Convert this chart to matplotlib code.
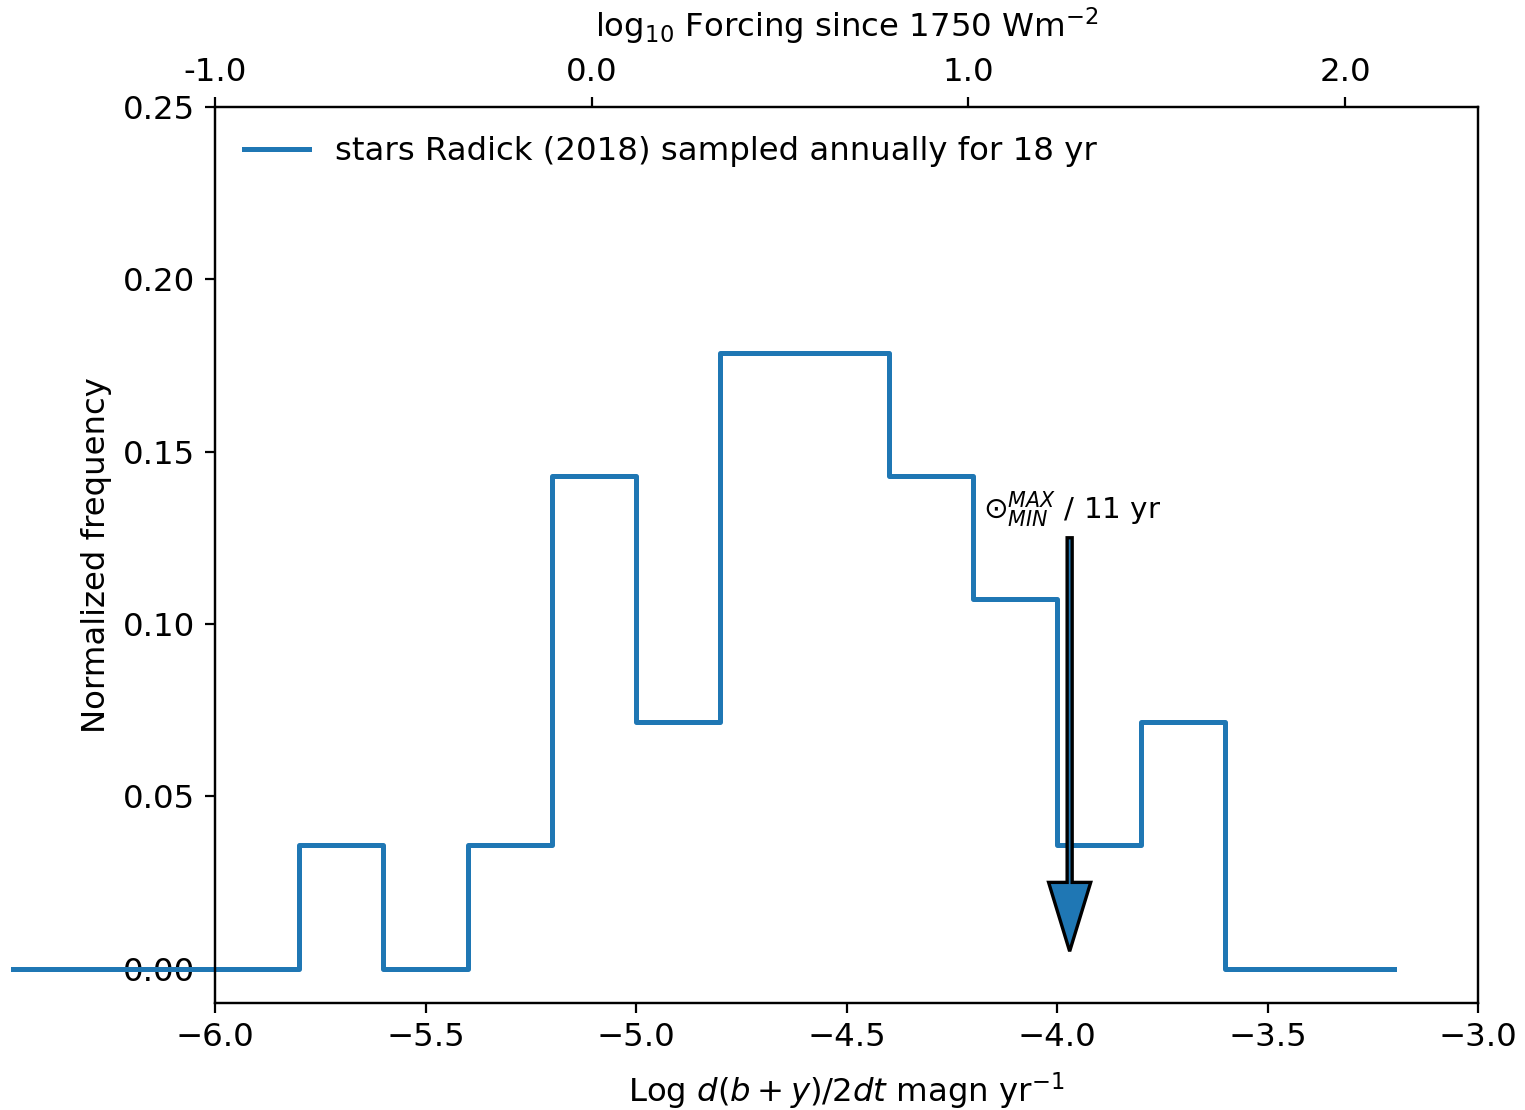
import numpy as np
import matplotlib.pyplot as plt

# bin edges (log d(b+y)/2dt) and normalized frequencies, 28 stars
edges = [-6.48, -5.8, -5.6, -5.4, -5.2, -5.0, -4.8, -4.6, -4.4, -4.2, -4.0, -3.8, -3.6, -3.2]
freq = [0.0, 1/28, 0.0, 1/28, 4/28, 2/28, 5/28, 5/28, 4/28, 3/28, 1/28, 2/28, 0.0]

sun_x = -3.97
sun_top = 0.125
top_ticks = [-1.0, 0.0, 1.0, 2.0]
top_labels = ['-1.0', '0.0', '1.0', '2.0']

plt.rcParams['font.size'] = 11.65

fig = plt.figure(figsize=(7.625, 5.55), dpi=200)
ax = fig.add_axes([0.141, 0.0964, 0.8282, 0.8072])

y = list(freq) + [freq[-1]]
ax.step(edges, y, where='post', color='C0', lw=1.8, clip_on=False,
        label='stars Radick (2018) sampled annually for 18 yr')

ax.arrow(sun_x, sun_top, 0, -0.12, width=0.012, head_width=0.1, head_length=0.02,
         length_includes_head=True, fc='C0', ec='k', lw=1.2, zorder=3)
ax.text(-4.175, 0.1305, r'$\odot^{MAX}_{MIN}$ / 11 yr', fontsize=10.6)

ax.set_xlim(-6, -3)
ax.set_ylim(-0.01, 0.25)
ax.set_xticks(np.arange(-6, -2.9, 0.5))
ax.set_yticks(np.arange(0, 0.26, 0.05))
ax.set_xlabel(r'Log $d(b+y)/2dt$ magn yr$^{-1}$', labelpad=6)
ax.set_ylabel('Normalized frequency')
ax.legend(loc='upper left', frameon=False)

ax2 = ax.twiny()
ax2.set_xlim(-1.0, 2.353)
ax2.set_xticks(top_ticks)
ax2.set_xticklabels(top_labels)
ax2.set_xlabel(r'log$_{10}$ Forcing since 1750 Wm$^{-2}$', labelpad=7)

fig.savefig('out.png', dpi=200)
